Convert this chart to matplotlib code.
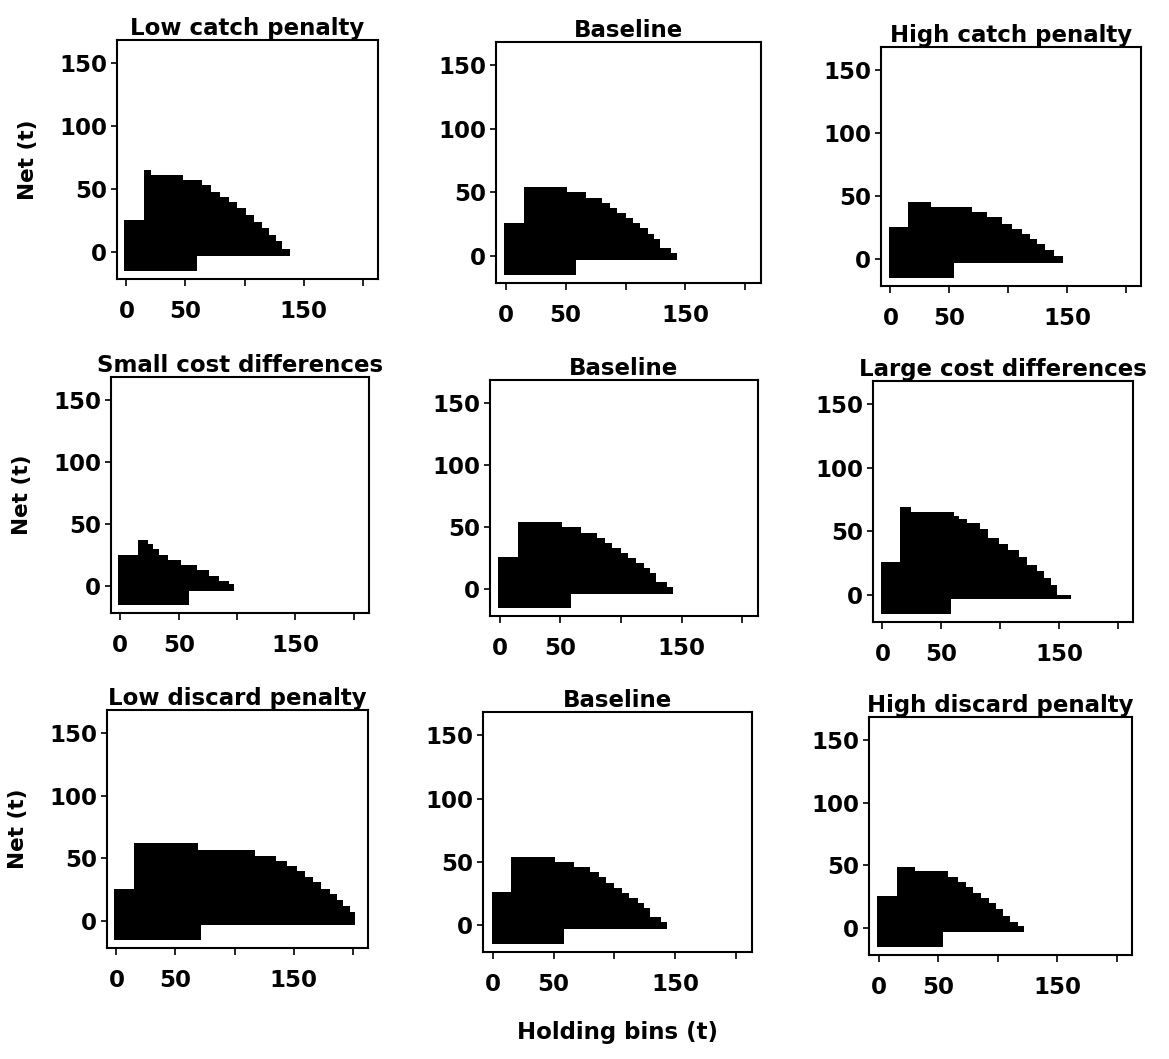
import numpy as np
import matplotlib
matplotlib.use("Agg")
import matplotlib.pyplot as plt

plt.rcParams['font.family'] = ['DejaVu Sans']
plt.rcParams['font.weight'] = 'bold'
plt.rcParams['axes.titleweight'] = 'bold'
plt.rcParams['axes.labelweight'] = 'bold'

# panel titles, row by row
titles = ["Low catch penalty", "Baseline", "High catch penalty",
          "Small cost differences", "Baseline", "Large cost differences",
          "Low discard penalty", "Baseline", "High discard penalty"]

# upper boundary of the region: step edges (holding bins, t) and net level (t)
baseline_edges = [-1, 15, 51, 67, 80, 87, 93, 100, 106, 112, 119, 124, 129, 138, 143]
baseline_tops = [26, 54, 50, 45.5, 41.5, 37.5, 33.5, 29.5, 25.5, 21.5, 17.5, 13, 6, 2]
baseline_split = 58.5

low_catch_edges = [-2, 15, 20.5, 48, 64, 72, 79.5, 86.5, 94, 101, 108, 115, 120.5, 126.5, 132, 138.5]
low_catch_tops = [25.5, 65, 61, 57, 53, 48, 44, 40, 35, 29.5, 24, 19, 13.5, 8.5, 2]
low_catch_split = 60

high_catch_edges = [-1.5, 15, 34.5, 69, 82.5, 94.5, 103, 111.5, 119, 124.5, 131.5, 139, 147]
high_catch_tops = [25.5, 45.5, 41.5, 37.5, 33, 28, 23.5, 19.5, 16, 12, 7, 2]
high_catch_split = 54

small_cost_edges = [-2, 15, 23.5, 28, 33.5, 40.5, 52, 66, 76, 84.5, 93, 97.5]
small_cost_tops = [25.5, 37.5, 34, 30, 25.5, 21.5, 17, 13, 8.5, 4.5, 1.5]
small_cost_split = 59

large_cost_edges = [-1.5, 15, 24.5, 60.5, 65, 72, 83, 90, 99, 107, 116, 123, 131.5, 137, 143, 148.5, 160]
large_cost_tops = [26, 69, 65.5, 62, 60, 56.5, 52, 45, 40, 35.5, 29.5, 23.5, 19, 13, 8, 0]
large_cost_split = 58

low_discard_edges = [-2, 15, 69, 117, 135.5, 144, 152.5, 159.5, 166.5, 173.5, 180.5, 186.5, 192, 197.5, 202]
low_discard_tops = [26, 62, 57, 52, 48, 44, 40, 35.5, 31, 26, 21.5, 17, 12, 7]
low_discard_split = 72

high_discard_edges = [-1.5, 15.5, 31, 58, 66.5, 73.5, 79.5, 86.5, 93, 99, 105, 110.5, 117.5, 122]
high_discard_tops = [25.5, 49, 45.5, 40.5, 36.5, 32.5, 28, 24, 20, 15, 10, 5, 2]
high_discard_split = 54

# lower boundary: floor left of split, raised floor right of split
floor_left = -15
floor_right = -3.5

panels = [
    (low_catch_edges, low_catch_tops, low_catch_split),
    (baseline_edges, baseline_tops, baseline_split),
    (high_catch_edges, high_catch_tops, high_catch_split),
    (small_cost_edges, small_cost_tops, small_cost_split),
    (baseline_edges, baseline_tops, baseline_split),
    (large_cost_edges, large_cost_tops, large_cost_split),
    (low_discard_edges, low_discard_tops, low_discard_split),
    (baseline_edges, baseline_tops, baseline_split),
    (high_discard_edges, high_discard_tops, high_discard_split),
]

x_ticks = [0, 50, 100, 150, 200]
x_ticklabels = ["0", "50", "", "150", ""]
y_ticks = [0, 50, 100, 150]

# axes boxes in pixels: left, right, top, bottom
boxes = [(117, 378, 40, 279), (496, 761, 42, 283), (881, 1141, 47, 286),
         (111, 369, 377, 613), (490, 758, 380, 616), (873, 1133, 381, 622),
         (107, 368, 710, 948), (483, 752, 712, 952), (869, 1132, 717, 955)]

W, H = 1169, 1059
fig = plt.figure(figsize=(W / 100, H / 100), dpi=100)


def draw_region(ax, edges, tops, split):
    edges = np.asarray(edges, float)
    tops = np.asarray(tops, float)
    xs = np.unique(np.concatenate([edges, [split]]))
    idx = np.searchsorted(edges, xs[:-1], side='right') - 1
    top = np.append(tops[idx], tops[-1])
    bot = np.where(xs < split, floor_left, floor_right)
    ax.fill_between(xs, bot, top, step='post', color='black', lw=0)


for i, (title, (edges, tops, split), (l, r, t, b)) in enumerate(zip(titles, panels, boxes)):
    ax = fig.add_axes([l / W, 1 - b / H, (r - l) / W, (b - t) / H])
    draw_region(ax, edges, tops, split)
    ax.set_xlim(-8, 213)
    ax.set_ylim(-21.5, 168.5)
    ax.set_xticks(x_ticks)
    ax.set_xticklabels(x_ticklabels)
    ax.set_yticks(y_ticks)
    ax.tick_params(axis='x', length=5, width=1.2, pad=10, labelsize=16.5)
    ax.tick_params(axis='y', length=4, width=1.2, pad=3, labelsize=16.5)
    for s in ax.spines.values():
        s.set_linewidth(1.5)
    ax.set_title(title, fontsize=16.5, pad=1.5)
    if i % 3 == 0:
        ax.set_ylabel("Net (t)", fontsize=15.5, labelpad=15)
    if i == 7:
        ax.set_xlabel("Holding bins (t)", fontsize=16.5, labelpad=18)

fig.savefig("out.png", dpi=100)
